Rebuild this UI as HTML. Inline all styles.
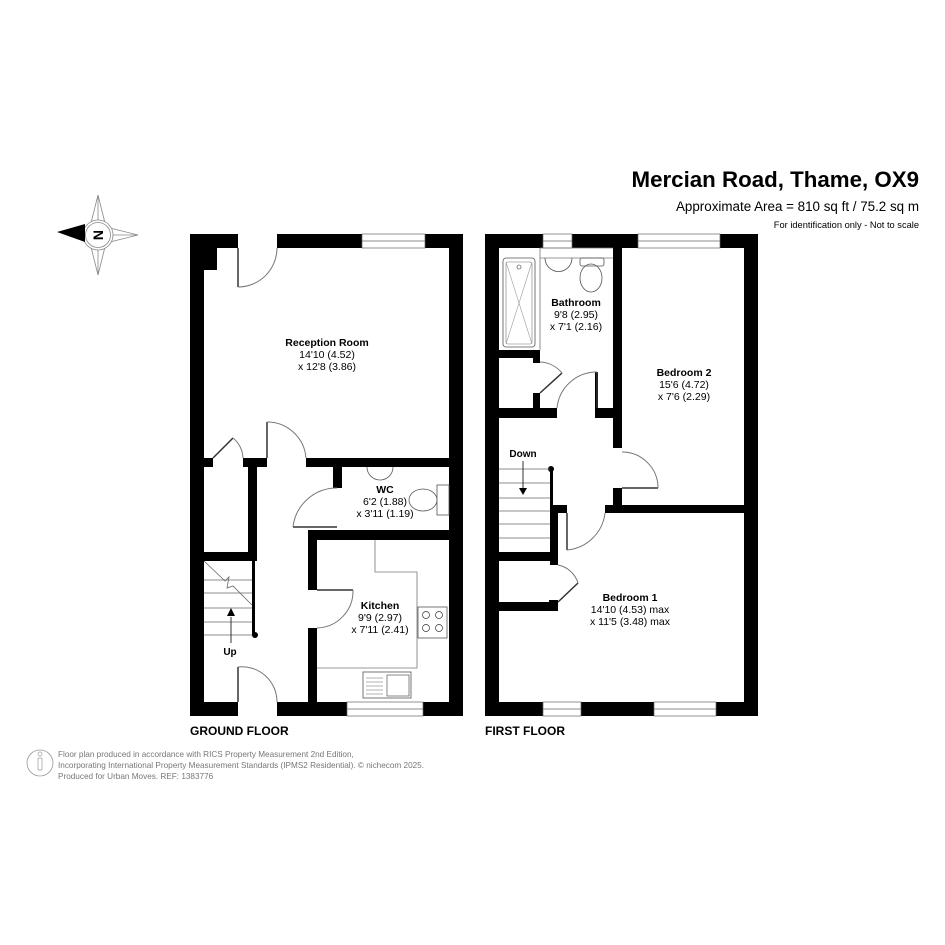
<!DOCTYPE html>
<html><head><meta charset="utf-8"><style>
html,body{margin:0;padding:0;background:#fff;}
svg{display:block;}
text{font-family:"Liberation Sans",Arial,sans-serif;fill:#000;}
.b{font-weight:bold;}
</style></head><body>
<svg width="945" height="945" viewBox="0 0 945 945" xmlns="http://www.w3.org/2000/svg">
<rect width="945" height="945" fill="#fff"/>
<!-- header -->
<text x="919" y="187" font-size="22.3" class="b" text-anchor="end">Mercian Road, Thame, OX9</text>
<text x="919" y="211" font-size="13.4" text-anchor="end">Approximate Area = 810 sq ft / 75.2 sq m</text>
<text x="919" y="228" font-size="9.3" text-anchor="end">For identification only - Not to scale</text>

<!-- compass -->
<g stroke="#888" stroke-width="0.8" fill="none">
<polygon points="98,195 106,227 138,235 106,243 98,275 90,243 80,235 90,227"/>
<line x1="98" y1="195" x2="98" y2="275"/><line x1="80" y1="235" x2="138" y2="235"/>
<circle cx="98" cy="235" r="15" fill="#fff"/><circle cx="98" cy="235" r="12.5"/>
</g>
<polygon points="57,232 85,224 85,242" fill="#000"/>
<text x="98" y="240" font-size="14" class="b" text-anchor="middle" transform="rotate(-90 98 235)">N</text>

<!-- ================= GROUND FLOOR ================= -->
<g fill="#000">
<rect x="190" y="234" width="48" height="14"/>
<rect x="277" y="234" width="85" height="14"/>
<rect x="425" y="234" width="38" height="14"/>
<rect x="190" y="234" width="14" height="482"/>
<rect x="449" y="234" width="14" height="482"/>
<rect x="190" y="702" width="48" height="14"/>
<rect x="277" y="702" width="70" height="14"/>
<rect x="423" y="702" width="40" height="14"/>
<rect x="204" y="248" width="13" height="22"/>
<rect x="204" y="458" width="9" height="9"/>
<rect x="243" y="458" width="24" height="9"/>
<rect x="306" y="458" width="143" height="9"/>
<rect x="248" y="458" width="9" height="100"/>
<rect x="204" y="552" width="53" height="9"/>
<rect x="252" y="558" width="3" height="77"/>
<circle cx="255" cy="635" r="3"/>
<rect x="333" y="467" width="9" height="21"/>
<rect x="308" y="530" width="141" height="10"/>
<rect x="308" y="530" width="9" height="60"/>
<rect x="308" y="628" width="9" height="74"/>
</g>
<g fill="#fff" stroke="#666" stroke-width="0.7">
<rect x="362" y="234" width="63" height="14"/><line x1="362" y1="241" x2="425" y2="241"/>
<rect x="347" y="702" width="76" height="14"/><line x1="347" y1="709" x2="423" y2="709"/>
</g>
<g fill="none" stroke="#333" stroke-width="1">
<line x1="238" y1="248" x2="238" y2="287" stroke-width="1.5"/>
<path d="M238,287 A39,39 0 0 0 277,248" stroke="#777"/>
<line x1="238" y1="702" x2="238" y2="667" stroke-width="1.5"/>
<path d="M238,667 A35,35 0 0 1 277,702" stroke="#777"/>
<line x1="213" y1="458" x2="233" y2="438" stroke-width="1.5"/>
<path d="M233,438 A28,28 0 0 1 243,458" stroke="#777"/>
<line x1="267" y1="458" x2="267" y2="422" stroke-width="1.5"/>
<path d="M267,422 A39,39 0 0 1 306,458" stroke="#777"/>
<line x1="293" y1="527" x2="337" y2="527" stroke-width="1.5"/>
<path d="M293,527 A44,44 0 0 1 337,488" stroke="#777"/>
<line x1="317" y1="590" x2="353" y2="590" stroke-width="1.5"/>
<path d="M353,590 A37,37 0 0 1 317,628" stroke="#777"/>
<g stroke="#666" stroke-width="0.8">
<line x1="204" y1="580" x2="252" y2="580"/><line x1="204" y1="593" x2="252" y2="593"/>
<line x1="204" y1="608" x2="252" y2="608"/><line x1="204" y1="622" x2="252" y2="622"/>
<line x1="204" y1="635" x2="252" y2="635"/>
<path d="M204,561 L225,581 L229,577 L227,588 L233,586 L252,605"/>
</g>
<line x1="231" y1="643" x2="231" y2="617" stroke-width="1"/>
<path d="M375,540 V572 H417 V668 H317" stroke="#777" stroke-width="0.8"/>
<rect x="418" y="607" width="29" height="31" stroke="#555" stroke-width="0.8"/>
<circle cx="426" cy="615" r="3.5" stroke-width="0.7"/><circle cx="439" cy="615" r="3.5" stroke-width="0.7"/>
<circle cx="426" cy="628" r="3.5" stroke-width="0.7"/><circle cx="439" cy="628" r="3.5" stroke-width="0.7"/>
<rect x="363" y="672" width="48" height="26" stroke="#555" stroke-width="0.8"/>
<rect x="387" y="675" width="22" height="21" stroke="#555" stroke-width="0.7"/>
<g stroke="#666" stroke-width="0.6"><line x1="366" y1="678" x2="383" y2="678"/><line x1="366" y1="682" x2="383" y2="682"/><line x1="366" y1="686" x2="383" y2="686"/><line x1="366" y1="690" x2="383" y2="690"/><line x1="366" y1="694" x2="383" y2="694"/></g>
<path d="M367,467 A13,13 0 0 0 393,467" stroke="#555" stroke-width="0.8"/>
<ellipse cx="423" cy="500" rx="14" ry="11" stroke="#555" stroke-width="0.8"/>
<rect x="437" y="485" width="12" height="30" stroke="#555" stroke-width="0.8" fill="#fff"/>
</g>
<polygon points="231,608 227,616 235,616" fill="#000"/>

<text x="327" y="346" font-size="10.5" class="b" text-anchor="middle">Reception Room</text>
<text x="327" y="358" font-size="10.5" text-anchor="middle">14'10 (4.52)</text>
<text x="327" y="370" font-size="10.5" text-anchor="middle">x 12'8 (3.86)</text>
<text x="385" y="493" font-size="10.5" class="b" text-anchor="middle">WC</text>
<text x="385" y="505" font-size="10.5" text-anchor="middle">6'2 (1.88)</text>
<text x="385" y="517" font-size="10.5" text-anchor="middle">x 3'11 (1.19)</text>
<text x="380" y="609" font-size="10.5" class="b" text-anchor="middle">Kitchen</text>
<text x="380" y="621" font-size="10.5" text-anchor="middle">9'9 (2.97)</text>
<text x="380" y="633" font-size="10.5" text-anchor="middle">x 7'11 (2.41)</text>
<text x="230" y="655" font-size="10" class="b" text-anchor="middle">Up</text>
<text x="190" y="735" font-size="12" class="b">GROUND FLOOR</text>

<!-- ================= FIRST FLOOR ================= -->
<g fill="#000">
<rect x="485" y="234" width="58" height="14"/>
<rect x="572" y="234" width="66" height="14"/>
<rect x="720" y="234" width="38" height="14"/>
<rect x="485" y="234" width="14" height="482"/>
<rect x="744" y="234" width="14" height="482"/>
<rect x="485" y="702" width="58" height="14"/>
<rect x="581" y="702" width="73" height="14"/>
<rect x="716" y="702" width="42" height="14"/>
<rect x="613" y="248" width="9" height="200"/>
<rect x="613" y="488" width="9" height="25"/>
<rect x="605" y="505" width="139" height="8"/>
<rect x="499" y="350" width="41" height="8"/>
<rect x="533" y="350" width="7" height="13"/>
<rect x="533" y="393" width="7" height="15"/>
<rect x="499" y="408" width="58" height="10"/>
<rect x="595" y="408" width="27" height="10"/>
<rect x="595" y="372" width="3" height="40"/>
<rect x="550" y="469" width="3" height="40"/>
<circle cx="551" cy="469" r="3"/>
<rect x="550" y="505" width="8" height="60"/>
<rect x="550" y="505" width="17" height="8"/>
<rect x="499" y="552" width="58" height="9"/>
<rect x="549" y="600" width="9" height="11"/>
<rect x="499" y="602" width="59" height="9"/>
</g>
<g fill="#fff" stroke="#666" stroke-width="0.7">
<rect x="543" y="234" width="29" height="14"/><line x1="543" y1="241" x2="572" y2="241"/>
<rect x="638" y="234" width="82" height="14"/><line x1="638" y1="241" x2="720" y2="241"/>
<rect x="543" y="702" width="38" height="14"/><line x1="543" y1="709" x2="581" y2="709"/>
<rect x="654" y="702" width="62" height="14"/><line x1="654" y1="709" x2="716" y2="709"/>
</g>
<g fill="none" stroke="#333" stroke-width="1">
<line x1="540" y1="248" x2="613" y2="248" stroke="#777" stroke-width="0.8"/>
<line x1="540" y1="258" x2="613" y2="258" stroke="#777" stroke-width="0.8"/>
<line x1="540" y1="248" x2="540" y2="350" stroke="#777" stroke-width="0.8"/>
<rect x="503" y="258" width="32" height="89" rx="3" stroke="#555" stroke-width="0.8"/>
<rect x="506" y="262" width="26" height="82" rx="2" stroke="#777" stroke-width="0.6"/>
<path d="M506,262 L532,344 M532,262 L506,344" stroke="#999" stroke-width="0.6"/>
<circle cx="519" cy="267" r="2" stroke-width="0.6"/>
<path d="M545,258 A13,13 0 0 0 572,258" stroke="#555" stroke-width="0.8"/>
<rect x="580" y="258" width="24" height="8" rx="2" stroke="#555" stroke-width="0.8"/>
<ellipse cx="591" cy="278" rx="11" ry="14" stroke="#555" stroke-width="0.8"/>
<line x1="622" y1="488" x2="658" y2="488" stroke-width="1.5"/>
<path d="M658,488 A36,36 0 0 0 622,452" stroke="#777"/>
<line x1="597" y1="408" x2="597" y2="372" stroke-width="1.5"/>
<path d="M597,372 A40,40 0 0 0 557,408" stroke="#777"/>
<line x1="540" y1="393" x2="562" y2="373" stroke-width="1.5"/>
<path d="M562,373 A30,30 0 0 0 540,362" stroke="#777"/>
<line x1="567" y1="513" x2="567" y2="550" stroke-width="1.5"/>
<path d="M567,550 A42,42 0 0 0 605,513" stroke="#777"/>
<line x1="558" y1="602" x2="578" y2="583" stroke-width="1.5"/>
<path d="M578,583 A26,26 0 0 0 558,565" stroke="#777"/>
<g stroke="#666" stroke-width="0.8">
<line x1="499" y1="469" x2="550" y2="469"/><line x1="499" y1="483" x2="550" y2="483"/>
<line x1="499" y1="498" x2="550" y2="498"/><line x1="499" y1="511" x2="550" y2="511"/>
<line x1="499" y1="524" x2="550" y2="524"/><line x1="499" y1="538" x2="550" y2="538"/>
</g>
<line x1="523" y1="461" x2="523" y2="488" stroke-width="1"/>
</g>
<polygon points="523,495 519,488 527,488" fill="#000"/>

<text x="576" y="306" font-size="10.5" class="b" text-anchor="middle">Bathroom</text>
<text x="576" y="318" font-size="10.5" text-anchor="middle">9'8 (2.95)</text>
<text x="576" y="330" font-size="10.5" text-anchor="middle">x 7'1 (2.16)</text>
<text x="684" y="376" font-size="10.5" class="b" text-anchor="middle">Bedroom 2</text>
<text x="684" y="388" font-size="10.5" text-anchor="middle">15'6 (4.72)</text>
<text x="684" y="400" font-size="10.5" text-anchor="middle">x 7'6 (2.29)</text>
<text x="630" y="601" font-size="10.5" class="b" text-anchor="middle">Bedroom 1</text>
<text x="630" y="613" font-size="10.5" text-anchor="middle">14'10 (4.53) max</text>
<text x="630" y="625" font-size="10.5" text-anchor="middle">x 11'5 (3.48) max</text>
<text x="523" y="457" font-size="10" class="b" text-anchor="middle">Down</text>
<text x="485" y="735" font-size="12" class="b">FIRST FLOOR</text>

<circle cx="40" cy="763" r="13" fill="none" stroke="#999" stroke-width="0.8"/>
<circle cx="40" cy="754" r="2" fill="none" stroke="#999" stroke-width="0.7"/>
<rect x="38" y="758" width="4" height="12" rx="1" fill="none" stroke="#999" stroke-width="0.7"/>
<g font-size="8.2">
<text x="58" y="757" style="fill:#777">Floor plan produced in accordance with RICS Property Measurement 2nd Edition,</text>
<text x="58" y="768" style="fill:#777">Incorporating International Property Measurement Standards (IPMS2 Residential).   © nichecom 2025.</text>
<text x="58" y="779" style="fill:#777">Produced for Urban Moves.   REF: 1383776</text>
</g>
</svg>
</body></html>
